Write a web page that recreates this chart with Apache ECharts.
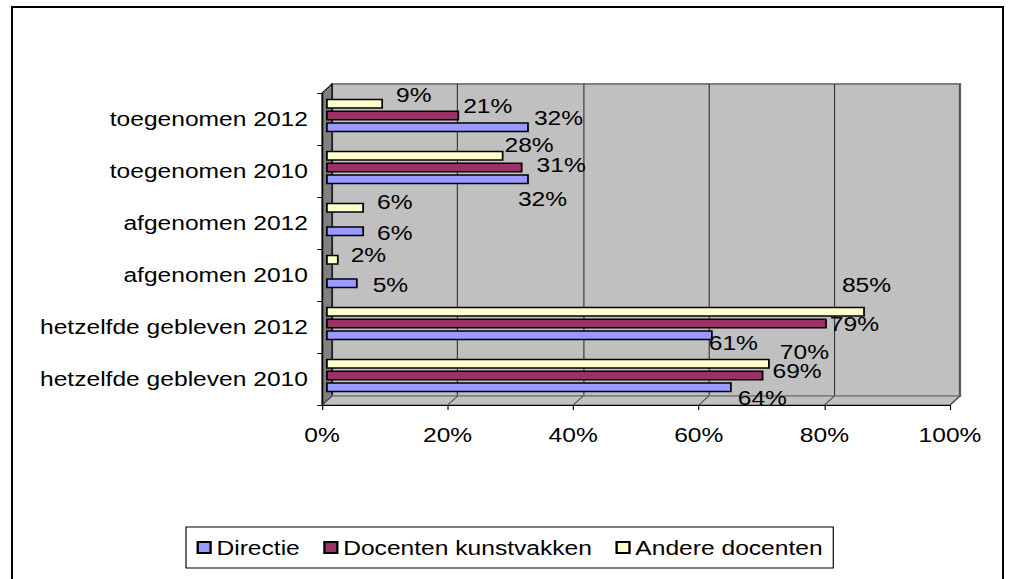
<!DOCTYPE html>
<html>
<head>
<meta charset="utf-8">
<script src="https://cdn.jsdelivr.net/npm/echarts@6/dist/echarts.min.js"></script>
<style>
    html, body { margin: 0; padding: 0; background: #fff; overflow: hidden; }
    #frame { position: absolute; left: 11px; top: 6px; width: 989px; height: 620px; border: 2px solid #000; border-bottom: none; }
    /* the original is an Excel chart stretched sideways, so the chart is drawn narrower and scaled in x */
    #chart { position: absolute; left: 0; top: 0; width: 864px; height: 579px; transform: scaleX(1.1713); transform-origin: 0 0; }
</style>
</head>
<body>
<div id="frame"></div>
<div id="chart"></div>
<script>
// categories bottom -> top (category axis starts at the bottom)
var categories = ['hetzelfde gebleven 2010', 'hetzelfde gebleven 2012', 'afgenomen 2010', 'afgenomen 2012', 'toegenomen 2010', 'toegenomen 2012'];
var seriesNames = ['Directie', 'Docenten kunstvakken', 'Andere docenten'];
var directie = [64, 61, 5, 6, 32, 32];
var docentenKunstvakken = [69, 79, null, null, 31, 21];
var andereDocenten = [70, 85, 2, 6, 28, 9];
var xTicks = [0, 20, 40, 60, 80, 100];

var SX = 1.1713;   // horizontal stretch of the page
function px(x) { return x / SX; }

// front plane of the 3D box (reference pixels), depth shift of the back wall
var fx0 = 322, fx1 = 950, fy0 = 93, fy1 = 405;
var ddx = 10, ddy = -9;
var font = "'Liberation Sans', Arial, sans-serif";

var colors = ['#9999ff', '#993366', '#ffffcc'];
// Excel scatters the 3D data labels around the bar ends; nudges [dx, dy] per label
var labelNudges = [
    [[6, 10], [-4, 7], [15, 1], [13, 1], [-11, 19], [5, -10]],
    [[9, -5], [3, 0], [0, 0], [0, 0], [14, -3], [4, -10]],
    [[10, -12], [-23, -27], [12, -5], [13, -6], [1, -11], [13, -9]]
];

var chartDom = document.getElementById('chart');
var myChart = echarts.init(chartDom, null, {renderer: 'svg'});

// left wall, floor and the little diagonal ticks on the floor
var elements = [
    {
        type: 'polygon', z: 1, silent: true,
        shape: {points: [[px(fx0), fy0], [px(fx0 + ddx), fy0 + ddy], [px(fx0 + ddx), fy1 + ddy], [px(fx0), fy1]]},
        style: {fill: '#808080', stroke: '#000', lineWidth: 1}
    },
    {
        type: 'polygon', z: 1, silent: true,
        shape: {points: [[px(fx0), fy1], [px(fx0 + ddx), fy1 + ddy], [px(fx1 + ddx), fy1 + ddy], [px(fx1), fy1]]},
        style: {fill: '#c0c0c0', stroke: '#808080', lineWidth: 1.5}
    }
];
xTicks.forEach(function(t) {
    var x = fx0 + (fx1 - fx0) * t / 100;
    elements.push({
        type: 'line', z: 1, silent: true,
        shape: {x1: px(x), y1: fy1, x2: px(x + ddx), y2: fy1 + ddy},
        style: {stroke: '#404040', lineWidth: 1}
    });
});

// bars of one category are stacked from the bottom up: Directie lowest, Andere docenten on top
var seriesData = [directie, docentenKunstvakken, andereDocenten];
var series = [];
for (var i = seriesData.length - 1; i >= 0; i--) {
    var nudges = labelNudges[i];
    series.push({
        name: seriesNames[i],
        type: 'bar',
        xAxisIndex: 2,
        yAxisIndex: 2,
        data: seriesData[i].map(function(v, j) {
            return {value: v, label: {offset: [px(nudges[j][0]), nudges[j][1]]}};
        }),
        barWidth: 10,
        barGap: '17%',
        z: 3,
        itemStyle: {color: colors[i], borderColor: '#000', borderWidth: 1.5},
        label: {
            show: true,
            position: 'right',
            distance: 0,
            formatter: '{c}%',
            color: '#000',
            fontSize: 21,
            fontFamily: font
        }
    });
}

var option = {
    animation: false,
    backgroundColor: 'transparent',
    grid: [
        // back wall
        {left: px(fx0 + ddx), top: fy0 + ddy, width: px(fx1 - fx0), height: fy1 - fy0,
         show: true, backgroundColor: '#c0c0c0', borderColor: '#808080', borderWidth: 2},
        // front plane with the axes
        {left: px(fx0), top: fy0, width: px(fx1 - fx0), height: fy1 - fy0},
        // bars sit a little into the depth
        {left: px(326), top: 89.5, width: px(634), height: fy1 - fy0}
    ],
    xAxis: [
        {gridIndex: 0, type: 'value', min: 0, max: 100, interval: 20,
         axisLine: {show: false}, axisTick: {show: false}, axisLabel: {show: false},
         splitLine: {show: true, lineStyle: {color: '#3a3a3a', width: 1}}},
        {gridIndex: 1, type: 'value', min: 0, max: 100, interval: 20, z: 5,
         axisLine: {show: true, lineStyle: {color: '#000', width: 1}},
         axisTick: {show: true, length: 5, lineStyle: {color: '#000'}},
         axisLabel: {formatter: '{value}%', color: '#000', fontSize: 21, fontFamily: font, margin: 19},
         splitLine: {show: false}},
        {gridIndex: 2, type: 'value', min: 0, max: 100, show: false, splitLine: {show: false}}
    ],
    yAxis: [
        {gridIndex: 0, type: 'category', data: categories, show: false},
        {gridIndex: 1, type: 'category', data: categories, z: 5,
         axisLine: {show: true, lineStyle: {color: '#000', width: 1}},
         axisTick: {show: true, length: 4, lineStyle: {color: '#000'}},
         axisLabel: {color: '#000', fontSize: 21, fontFamily: font, margin: 12},
         splitLine: {show: false}},
        {gridIndex: 2, type: 'category', data: categories, show: false}
    ],
    legend: {
        data: seriesNames,
        left: px(186),
        top: 527,
        padding: [10, 9],
        itemGap: 20,
        itemWidth: 11,
        itemHeight: 11,
        icon: 'rect',
        borderColor: '#000',
        borderWidth: 1,
        textStyle: {color: '#000', fontSize: 21, fontFamily: font}
    },
    graphic: {elements: elements},
    series: series
};

option && myChart.setOption(option);
</script>
</body>
</html>
